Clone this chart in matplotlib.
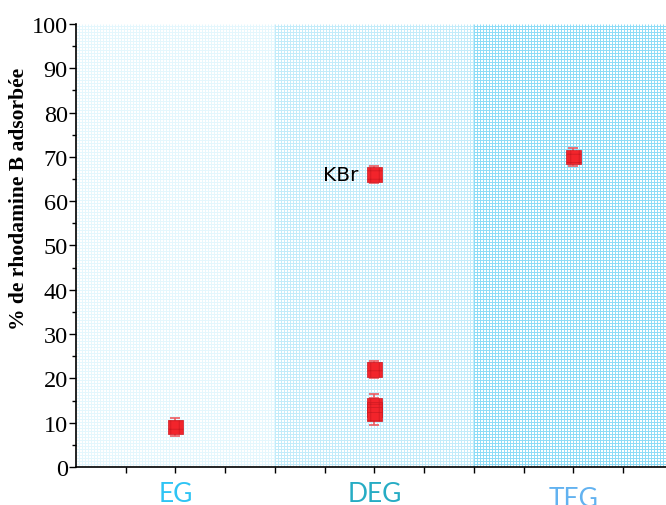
import numpy as np
import matplotlib.pyplot as plt

plt.rcParams["hatch.linewidth"] = 0.5

# adsorption results per solvent
solvents = ["EG", "DEG", "TEG"]
label_colors = ["#2ec4f4", "#26acc4", "#62b2f0"]
x_pos = [1, 2, 2, 2, 2, 2, 3]
adsorbed = [9, 66, 22, 14, 13, 12, 70]
err = [2, 2, 2, 2.5, 2.5, 2.5, 2]

fig = plt.figure(figsize=(6.66, 5.06), dpi=100)
ax = fig.add_axes([0.1141, 0.0751, 0.8964, 0.8755])
ax.set_xlim(0.5, 3.5)
ax.set_ylim(0, 100)

# graph-paper style background, darker for each solvent band
band_colors = ["#e4f7fd", "#c2ecfa", "#8cdcf7"]
dx = 3 / 199.0
dy = 3 / 4.43
for i, c in enumerate(band_colors):
    x0, x1 = 0.5 + i, 1.5 + i
    ax.axvspan(x0, x1, color="white", zorder=0)
    ax.vlines(np.arange(x0, x1, dx), 0, 100, colors=c, lw=0.7, zorder=0.5)
    ax.hlines(np.arange(0, 100, dy), x0, x1, colors=c, lw=0.7, zorder=0.5)

ax.errorbar(x_pos, adsorbed, yerr=err, fmt="none", ecolor="#ec5a60",
            elinewidth=1.2, capsize=3.5, capthick=1.2, zorder=2)
ax.scatter(x_pos, adsorbed, marker="s", s=110, facecolor="#f2242b",
           edgecolor="#cc1a22", linewidth=0.5, hatch="++", zorder=3)

ax.text(1.92, 66, "KBr", fontsize=14.5, family="DejaVu Sans",
        ha="right", va="center", zorder=4)

for sp in ["top", "right"]:
    ax.spines[sp].set_visible(False)
ax.spines["left"].set_linewidth(1.2)
ax.spines["bottom"].set_linewidth(1.2)

ax.set_yticks(np.arange(0, 101, 10))
ax.set_yticks(np.arange(0, 101, 5), minor=True)
ax.set_xticks(np.arange(0.75, 3.5, 0.25))
ax.set_xticklabels([])
ax.tick_params(axis="y", which="major", length=5, width=1, direction="out",
               labelsize=17.5, pad=1)
ax.tick_params(axis="y", which="minor", length=3, width=1)
ax.tick_params(axis="x", length=4, width=1)
for lab in ax.get_yticklabels():
    lab.set_family("Liberation Serif")

ax.set_ylabel("% de rhodamine B adsorbée", family="Liberation Serif",
              fontweight="bold", fontsize=15.5)
ax.yaxis.set_label_coords(-0.078, 0.607)

for i, (s, c) in enumerate(zip(solvents, label_colors)):
    yoff = -0.032 if i < 2 else -0.043
    ax.text(1 + i, yoff, s, transform=ax.get_xaxis_transform(), fontsize=19,
            family="Lato", color=c, ha="center", va="top")

fig.savefig("out.png", dpi=100)
